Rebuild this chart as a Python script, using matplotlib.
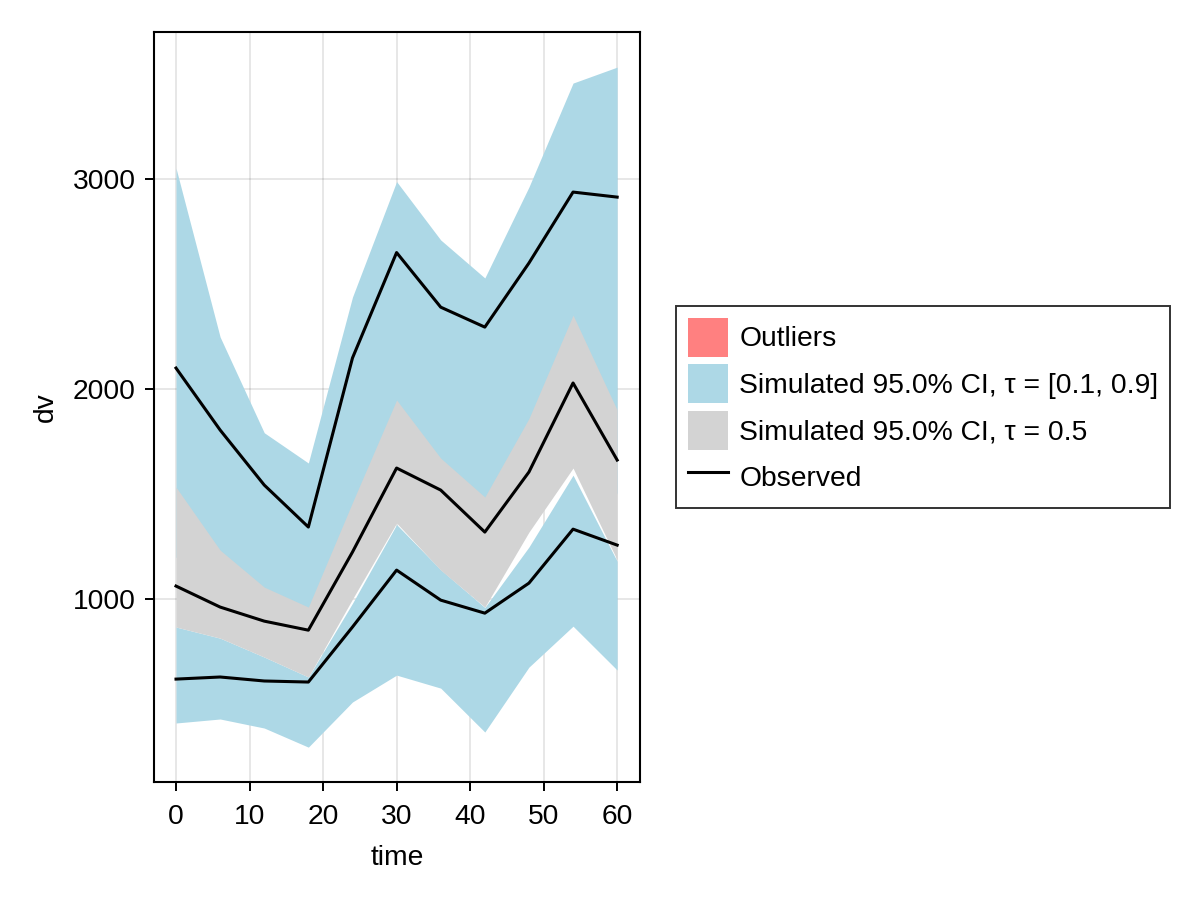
import matplotlib
matplotlib.use("Agg")
import matplotlib.pyplot as plt
from matplotlib.patches import Patch
from matplotlib.lines import Line2D

plt.rcParams['font.family'] = ['Liberation Sans', 'DejaVu Sans']

time = [0, 6, 12, 18, 24, 30, 36, 42, 48, 54, 60]

# Simulated CI band for the 0.9 quantile
q90_hi = [3052, 2248, 1792, 1648, 2438, 2988, 2710, 2529, 2962, 3457, 3533]
q90_lo = [1200, 1000, 880, 800, 1250, 1650, 1400, 1200, 1600, 1950, 1500]
# Simulated CI band for the 0.5 quantile
q50_hi = [1533, 1233, 1057, 962, 1460, 1948, 1671, 1486, 1860, 2352, 1900]
q50_lo = [867, 814, 724, 629, 1000, 1362, 1138, 962, 1319, 1624, 1186]
# Simulated CI band for the 0.1 quantile
q10_hi = [867, 814, 724, 629, 980, 1355, 1140, 960, 1248, 1590, 1180]
q10_lo = [410, 429, 386, 295, 510, 638, 576, 367, 676, 871, 662]

# Observed quantiles
obs90 = [2100, 1805, 1543, 1343, 2148, 2650, 2390, 2295, 2600, 2938, 2914]
obs50 = [1062, 962, 895, 852, 1224, 1624, 1519, 1319, 1605, 2029, 1662]
obs10 = [619, 629, 610, 605, 867, 1138, 995, 933, 1076, 1333, 1257]

legend_labels = ["Outliers", "Simulated 95.0% CI, τ = [0.1, 0.9]",
                 "Simulated 95.0% CI, τ = 0.5", "Observed"]

blue = "#ADD8E6"
gray = "#D3D3D3"
red = "#FF8080"
FS = 20.3

fig = plt.figure(figsize=(12, 9), dpi=100)
ax = fig.add_axes([0.1283, 0.1311, 0.4050, 0.8333])

ax.fill_between(time, q90_lo, q90_hi, color=blue, lw=0, zorder=2)
ax.fill_between(time, q10_lo, q10_hi, color=blue, lw=0, zorder=2)
ax.fill_between(time, q50_lo, q50_hi, color=gray, lw=0, zorder=3)

for obs in (obs90, obs50, obs10):
    ax.plot(time, obs, color="black", lw=2.2, zorder=4)

ax.set_xlim(-3, 63.1)
ax.set_ylim(129, 3700)
ax.set_xticks([0, 10, 20, 30, 40, 50, 60])
ax.set_yticks([1000, 2000, 3000])
ax.grid(True, color="black", alpha=0.12, lw=1.1, zorder=0)
ax.set_axisbelow(True)
for s in ax.spines.values():
    s.set_linewidth(1.5)
ax.tick_params(labelsize=FS, width=1.4, length=6.5, direction="out")
ax.tick_params(axis="x", pad=9)
ax.tick_params(axis="y", pad=6.5)
ax.set_xlabel("time", fontsize=FS, labelpad=11)
ax.set_ylabel("dv", fontsize=FS, labelpad=10)

handles = [Patch(facecolor=red, edgecolor="none"),
           Patch(facecolor=blue, edgecolor="none"),
           Patch(facecolor=gray, edgecolor="none"),
           Line2D([0], [0], color="black", lw=2.2)]
leg = fig.legend(handles, legend_labels, loc="center left",
                 bbox_to_anchor=(676 / 1200, 1 - 407 / 900), fontsize=FS,
                 frameon=True, fancybox=False, edgecolor="black",
                 handlelength=1.42, handleheight=1.76, labelspacing=0.26,
                 handletextpad=0.4, borderpad=0.42, borderaxespad=0)
leg.get_frame().set_linewidth(1.4)

fig.savefig("out.png", dpi=100)
